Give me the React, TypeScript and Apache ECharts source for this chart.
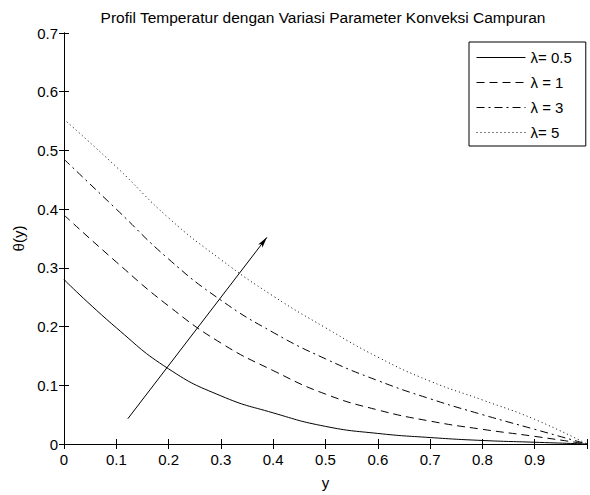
import React, { useEffect, useRef } from 'react';
import * as echarts from 'echarts';

const titleText = 'Profil Temperatur dengan Variasi Parameter Konveksi Campuran';
const xAxisName = 'y';
const yAxisName = 'θ(y)';

const yPos = [0, 0.1, 0.2, 0.3, 0.4, 0.5, 0.6, 0.7, 0.8, 0.9, 1.0];
const theta05 = [0.28, 0.198, 0.128, 0.082, 0.053, 0.03, 0.018, 0.011, 0.006, 0.003, 0];
const theta1 = [0.39, 0.31, 0.235, 0.172, 0.125, 0.085, 0.058, 0.039, 0.025, 0.013, 0];
const theta3 = [0.485, 0.4, 0.315, 0.245, 0.19, 0.145, 0.108, 0.077, 0.05, 0.025, 0];
const theta5 = [0.553, 0.472, 0.385, 0.314, 0.252, 0.198, 0.148, 0.107, 0.075, 0.042, 0];

const seriesNames = ['λ= 0.5', 'λ = 1', 'λ = 3', 'λ= 5'];
const arrowStart = [0.122, 0.043];
const arrowEnd = [0.388, 0.352];

const FONT = '"Liberation Sans", Arial, Helvetica, sans-serif';

export default function App() {
  const ref = useRef<HTMLDivElement>(null);
  useEffect(() => {
    const chart = echarts.init(ref.current!, null, { renderer: 'svg' });
    const pairs = (vals: number[]) => yPos.map((x, i) => [x, vals[i]]);
    const dashTypes: any[] = ['solid', [8, 5], [8, 4, 2, 4], [1, 3]];
    const allVals = [theta05, theta1, theta3, theta5];
    const lineSeries = allVals.map((vals, i) => ({
      name: seriesNames[i],
      type: 'line',
      data: pairs(vals),
      symbol: 'none',
      smooth: 0.5,
      lineStyle: { color: '#000', width: 1, type: dashTypes[i] },
      itemStyle: { color: 'rgba(0,0,0,0)' },
      xAxisIndex: 0,
      yAxisIndex: 0,
      z: 3,
    }));
    const axisCommon = {
      axisLine: { show: true, lineStyle: { color: '#000', width: 1 } },
      axisTick: { show: true, inside: true, length: 5, lineStyle: { color: '#000' } },
      splitLine: { show: false },
    };
    chart.setOption({
      animation: false,
      backgroundColor: '#fff',
      grid: { left: 64, top: 33, width: 526, height: 415, containLabel: false },
      graphic: [
        {
          type: 'text',
          x: 323,
          y: 17,
          style: {
            text: titleText,
            align: 'center',
            verticalAlign: 'middle',
            fontFamily: FONT,
            fontSize: 15.5,
            fill: '#000',
          },
        },
      ],
      legend: {
        data: seriesNames,
        orient: 'vertical',
        left: 469,
        top: 42,
        padding: [8, 14, 6, 7],
        itemGap: 10,
        itemWidth: 49,
        itemHeight: 14,
        backgroundColor: '#fff',
        borderColor: '#000',
        borderWidth: 1,
        borderRadius: 0,
        itemStyle: { opacity: 0 },
        lineStyle: { width: 1 },
        textStyle: { fontFamily: FONT, fontSize: 15, color: '#000' },
      },
      xAxis: [
        {
          type: 'value',
          min: 0,
          max: 1,
          interval: 0.1,
          position: 'bottom',
          name: xAxisName,
          nameLocation: 'middle',
          nameGap: 31,
          nameTextStyle: { fontFamily: FONT, fontSize: 15, color: '#000' },
          axisLabel: {
            fontFamily: FONT,
            fontSize: 15,
            color: '#000',
            margin: 8,
            formatter: (v: number) => (v >= 1 ? '' : String(v)),
          },
          ...axisCommon,
        },
        {
          type: 'value',
          min: 0,
          max: 1,
          interval: 0.1,
          position: 'top',
          axisLabel: { show: false },
          ...axisCommon,
        },
      ],
      yAxis: [
        {
          type: 'value',
          min: 0,
          max: 0.7,
          interval: 0.1,
          position: 'left',
          name: yAxisName,
          nameLocation: 'middle',
          nameGap: 33,
          nameRotate: 90,
          nameTextStyle: { fontFamily: FONT, fontSize: 15, color: '#000' },
          axisLabel: { fontFamily: FONT, fontSize: 15, color: '#000', margin: 6 },
          ...axisCommon,
        },
        {
          type: 'value',
          min: 0,
          max: 0.7,
          interval: 0.1,
          position: 'right',
          axisLabel: { show: false },
          ...axisCommon,
        },
      ],
      series: [
        ...lineSeries,
        {
          name: 'arrow',
          type: 'line',
          data: [],
          xAxisIndex: 0,
          yAxisIndex: 0,
          markLine: {
            silent: true,
            animation: false,
            symbol: ['none', 'arrow'],
            symbolSize: [4, 11],
            label: { show: false },
            lineStyle: { color: '#000', width: 1, type: 'solid' },
            data: [[{ coord: arrowStart }, { coord: arrowEnd }]],
          },
        },
      ],
    });
    return () => chart.dispose();
  }, []);
  return (
    <div
      ref={ref}
      style={{ position: 'fixed', left: 0, top: 0, width: 590, height: 495, background: '#fff' }}
    />
  );
}
